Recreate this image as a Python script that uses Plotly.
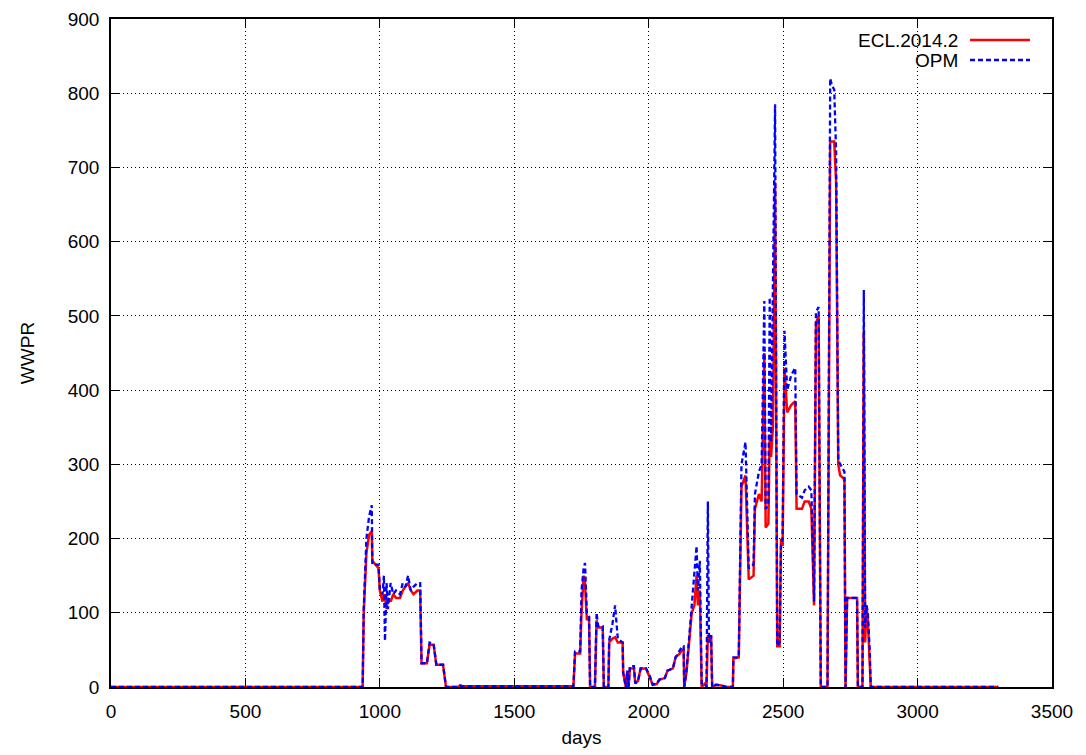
import plotly.graph_objects as go

# ---- data ----
days = [0, 500, 930, 936, 940, 950, 960, 970, 972, 995, 1000, 1010, 1015, 1019, 1025, 1030,
        1040, 1050, 1060, 1075, 1085, 1095, 1105, 1115, 1125, 1140, 1150, 1155, 1175, 1185,
        1200, 1210, 1235, 1246, 1290, 1298, 1310, 1500, 1720,
        1726, 1745, 1750, 1758, 1763, 1770, 1778, 1782, 1800, 1806, 1812, 1829, 1833, 1850,
        1853, 1865, 1875, 1885, 1903, 1905, 1915, 1920, 1925, 1930, 1945, 1950, 1960, 1970,
        1990, 2005, 2015, 2030, 2040, 2060, 2070, 2090, 2100, 2115, 2125, 2130, 2132, 2140,
        2150, 2160, 2170, 2178, 2183, 2190, 2197, 2210, 2215, 2220, 2224, 2232, 2236, 2250,
        2270, 2290, 2313, 2315, 2335, 2345, 2360, 2372, 2390, 2395, 2410, 2420, 2430, 2435,
        2445, 2450, 2455, 2462, 2470, 2478, 2487, 2492, 2498, 2505, 2515, 2530, 2545, 2550,
        2570, 2580, 2595, 2605, 2615, 2622, 2632, 2640, 2665, 2675, 2682, 2690, 2697, 2705,
        2712, 2728, 2732, 2738, 2775, 2778, 2795, 2800, 2805, 2810, 2815, 2822, 2826, 3300]

ecl = [0, 0, 0, 0, 100, 180, 205, 210, 170, 160, 130, 115, 125, 120, 105, 120,
       115, 125, 120, 120, 130, 135, 140, 130, 125, 130, 130, 32, 32, 57,
       57, 30, 30, 0, 0, 2, 1, 1, 1,
       45, 45, 100, 150, 140, 90, 95, 0, 0, 90, 80, 80, 0, 0,
       60, 65, 67, 60, 60, 19, 0, 20, 0, 25, 25, 5, 8, 25,
       25, 12, 3, 4, 10, 12, 22, 25, 40, 45, 50, 50, 0, 18,
       60, 100, 110, 150, 110, 130, 0, 5, 0, 70, 60, 70, 0, 3,
       2, 0, 0, 38, 40, 270, 285, 145, 150, 240, 260, 250, 450, 215,
       220, 340, 310, 350, 680, 55, 55, 200, 190, 430, 370, 380, 385, 240,
       240, 250, 250, 240, 110, 490, 500, 0, 0, 735, 735, 735, 680, 300,
       285, 280, 0, 120, 120, 0, 0, 480, 60, 110, 90, 40, 0, 0]

opm = [0, 0, 0, 0, 105, 200, 230, 245, 165, 165, 130, 125, 150, 62, 140, 105,
       140, 125, 130, 125, 140, 135, 150, 130, 135, 140, 140, 32, 32, 60,
       58, 30, 30, 0, 0, 2, 1, 1, 1,
       48, 48, 130, 160, 167, 100, 95, 0, 0, 100, 82, 82, 0, 0,
       63, 85, 110, 65, 60, 20, 0, 22, 0, 28, 28, 5, 8, 25,
       25, 14, 3, 5, 10, 12, 22, 25, 40, 48, 55, 55, 0, 20,
       65, 100, 150, 190, 130, 170, 5, 5, 0, 250, 60, 70, 0, 3,
       2, 0, 0, 40, 40, 300, 330, 160, 165, 260, 290, 300, 520, 240,
       245, 525, 330, 530, 785, 55, 60, 190, 200, 480, 400, 420, 430, 260,
       255, 265, 270, 265, 115, 505, 512, 0, 0, 820, 810, 805, 720, 305,
       300, 290, 0, 120, 120, 0, 0, 535, 80, 110, 100, 50, 0, 0]

x_ticks = [0, 500, 1000, 1500, 2000, 2500, 3000, 3500]
y_ticks = [0, 100, 200, 300, 400, 500, 600, 700, 800, 900]

FONT = "Liberation Sans, Arial, sans-serif"
FS = 19
DASH = "5px,3px"

fig = go.Figure()
fig.add_trace(go.Scatter(x=days, y=ecl, mode="lines", name="ECL.2014.2",
                         line=dict(color="#ff0000", width=2.5), showlegend=False))
fig.add_trace(go.Scatter(x=days, y=opm, mode="lines", name="OPM",
                         line=dict(color="#0000ff", width=2.3, dash=DASH), showlegend=False))

axis_common = dict(showline=True, linecolor="black", linewidth=1.5, mirror="ticks",
                   ticks="inside", ticklen=9, tickcolor="black", tickwidth=1.2,
                   showgrid=True, gridcolor="black", gridwidth=1, griddash="1px,3px",
                   zeroline=False, automargin=False,
                   tickfont=dict(family=FONT, size=FS, color="black"))

fig.update_xaxes(range=[0, 3500], tickvals=x_ticks, ticklabelstandoff=6, **axis_common,
                 title=dict(text="days", font=dict(family=FONT, size=FS, color="black"), standoff=10))
fig.update_yaxes(range=[0, 900], tickvals=y_ticks, ticklabelstandoff=6, **axis_common,
                 title=dict(text="WWPR", font=dict(family=FONT, size=FS, color="black"), standoff=28))

# legend (gnuplot style: text right-aligned, sample to the right)
def px2paper(px, py):
    return (px - 111) / 941, (687 - py) / 668

legend_items = [("ECL.2014.2", "#ff0000", "solid", 40), ("OPM", "#0000ff", DASH, 60)]
for label, color, dash, py in legend_items:
    tx, ty = px2paper(960, py)
    fig.add_annotation(x=tx, y=ty, xref="paper", yref="paper", text=label, showarrow=False,
                       xanchor="right", yanchor="middle",
                       font=dict(family=FONT, size=FS, color="black"))
    x0, y0 = px2paper(970, py)
    x1, _ = px2paper(1030, py)
    fig.add_shape(type="line", xref="paper", yref="paper", x0=x0, x1=x1, y0=y0, y1=y0,
                  line=dict(color=color, width=2.7, dash=dash))

fig.update_layout(width=1086, height=755, plot_bgcolor="white", paper_bgcolor="white",
                  margin=dict(l=103, r=42, t=11, b=76),
                  font=dict(family=FONT, size=FS, color="black"))

fig.write_html("out.html")
